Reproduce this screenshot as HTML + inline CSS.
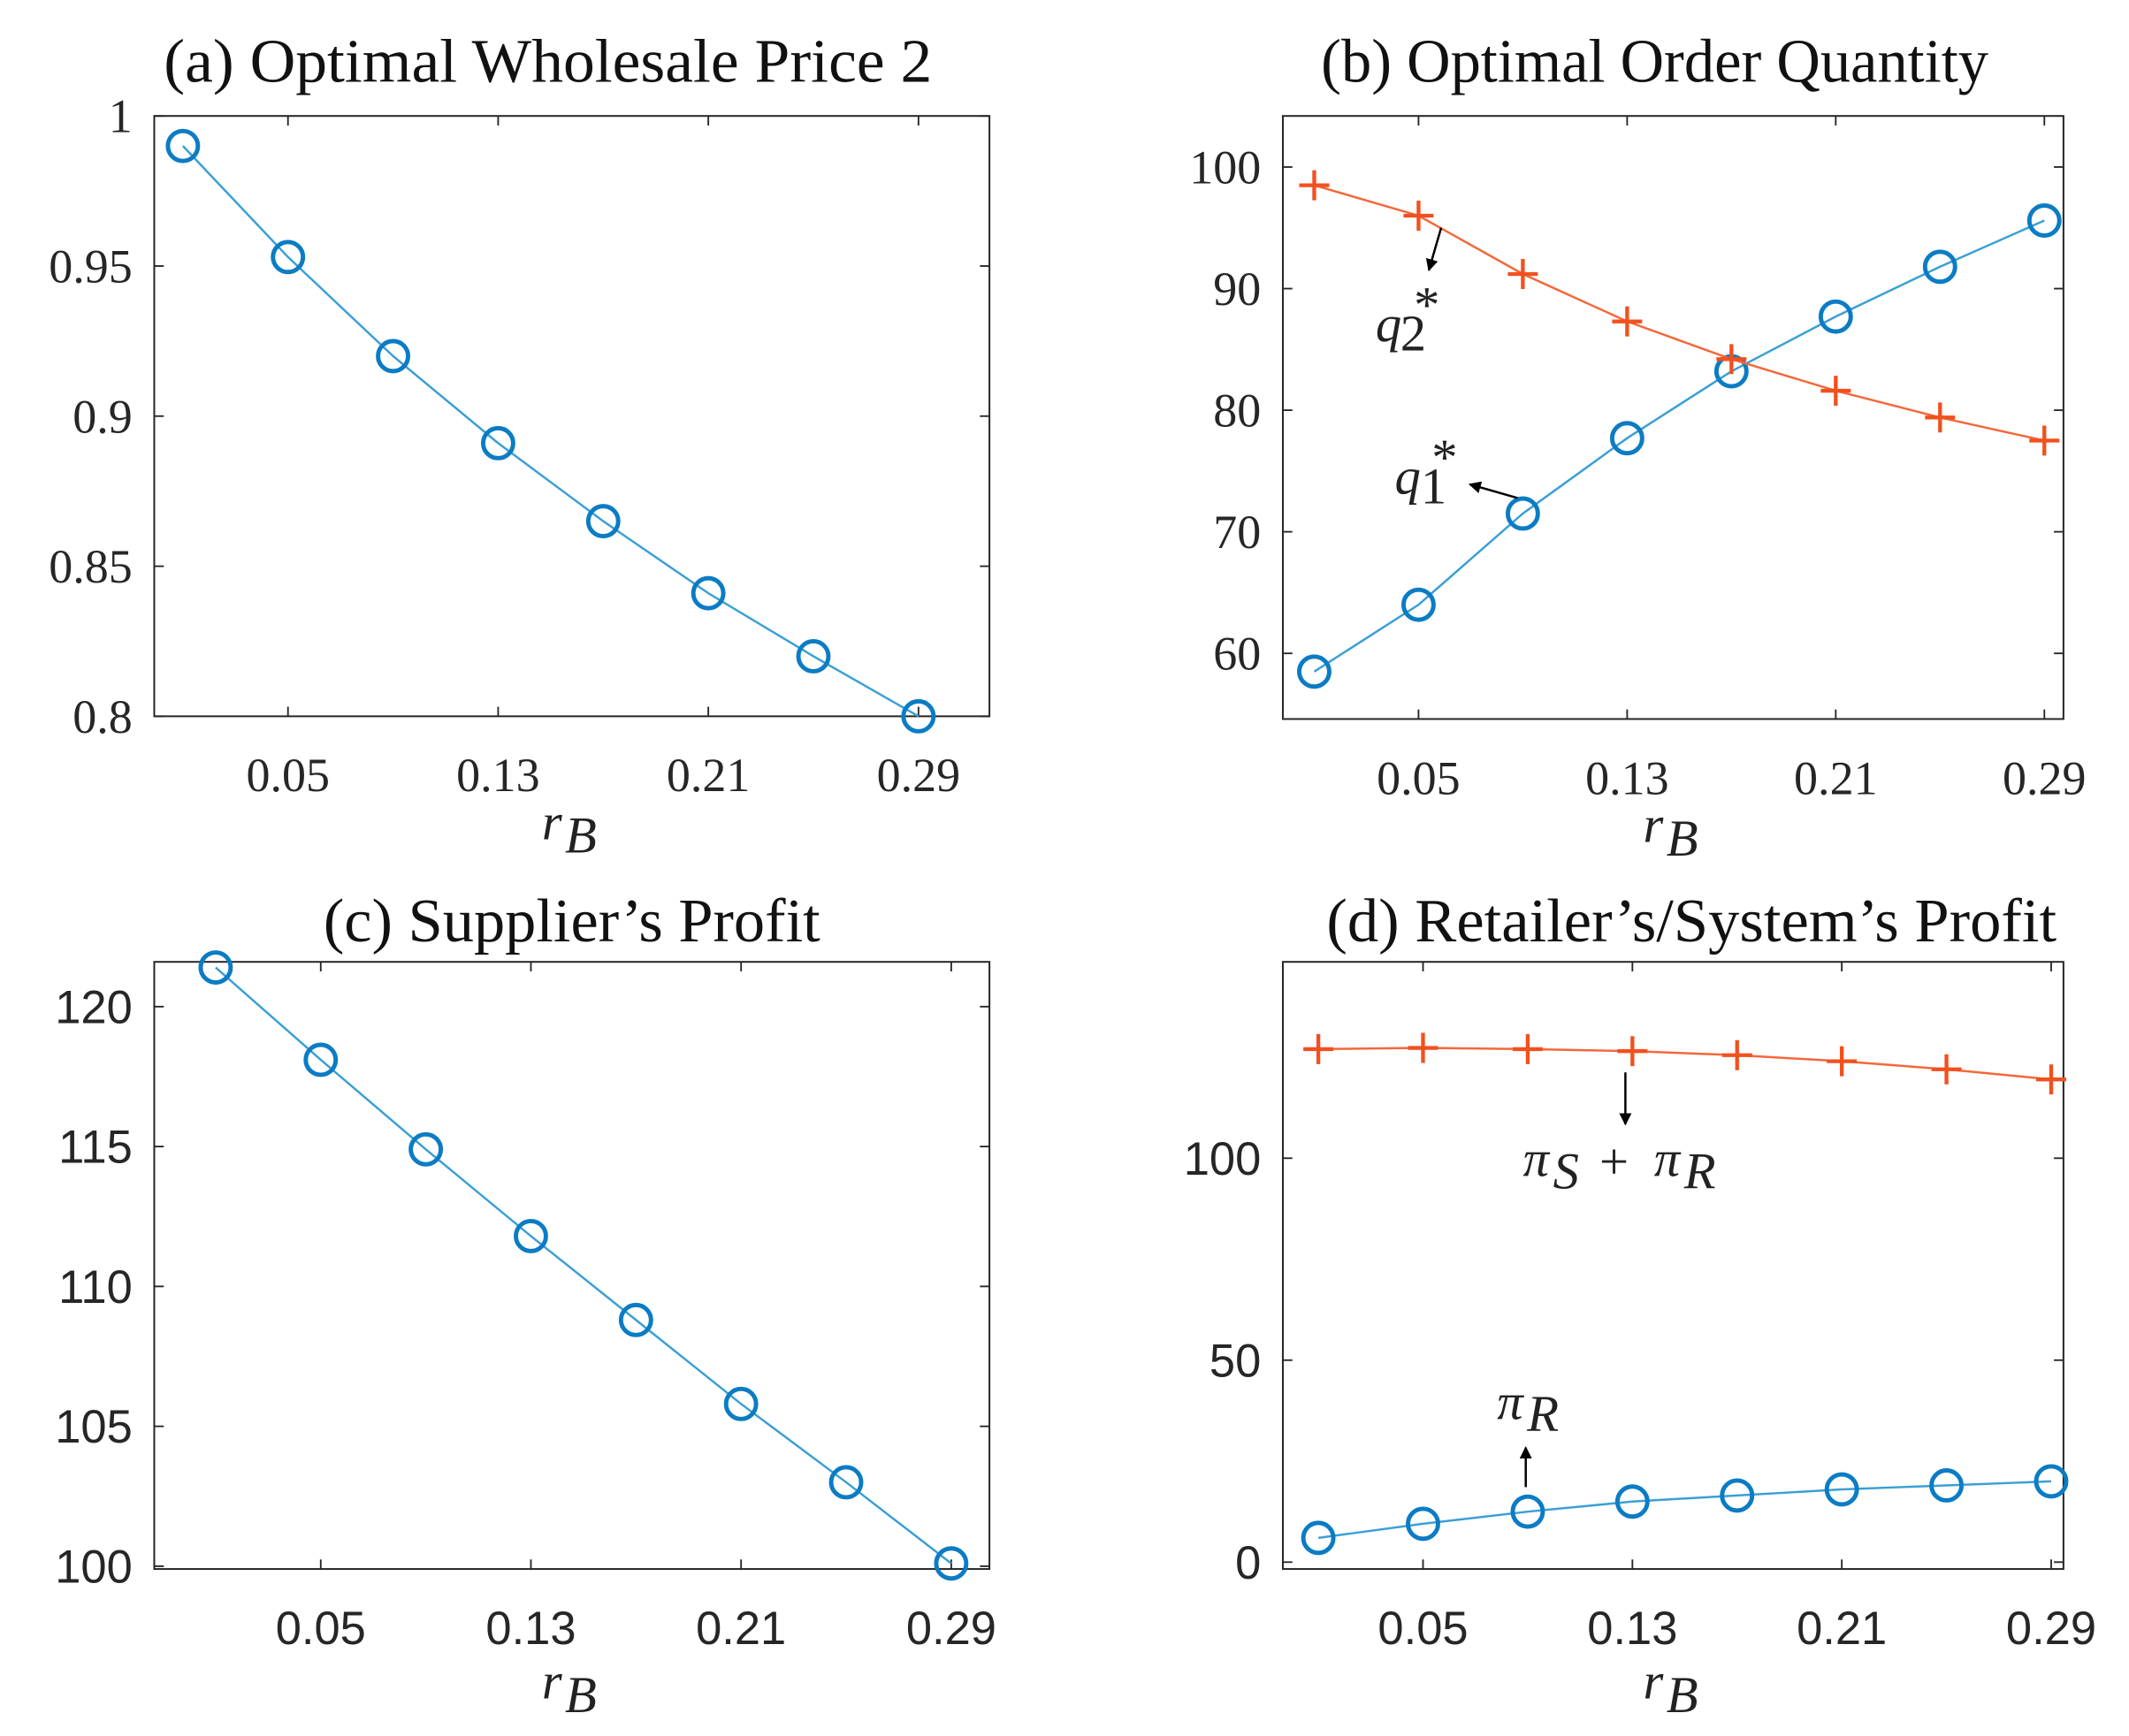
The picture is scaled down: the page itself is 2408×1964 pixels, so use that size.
<!DOCTYPE html>
<html><head><meta charset="utf-8"><style>
html,body{margin:0;padding:0;background:#fff;}
svg{display:block;}
.ttl{font-family:"Liberation Serif",serif;font-size:45px;fill:#111;}
.tks{font-family:"Liberation Serif",serif;font-size:35px;fill:#262626;}
.tkh{font-family:"Liberation Sans",sans-serif;font-size:34px;fill:#262626;}
.mth{font-family:"Liberation Serif",serif;font-style:italic;font-size:38px;fill:#222;}
.mthn{font-family:"Liberation Serif",serif;font-size:38px;fill:#222;}
</style></head><body>
<svg id="fig" width="2408" height="1964" viewBox="0 0 1560 1272.4" xmlns="http://www.w3.org/2000/svg">
<defs><marker id="ah" markerWidth="9" markerHeight="9" refX="8" refY="4.5" orient="auto" markerUnits="userSpaceOnUse" viewBox="0 0 9 9"><path d="M0,0 L9,4.5 L0,9 Z" fill="#000"/></marker></defs>
<g id="root"></g>
<g>
<line x1="1056" y1="167" x2="1047" y2="198" stroke="#000" stroke-width="1.6" marker-end="url(#ah)"/>
<text class="mth" x="1008" y="250">q</text><text class="mthn" x="1026" y="257" font-size="25">2</text><text class="mthn" x="1036" y="236" font-size="25">*</text>
</g>
<g>
<line x1="1112" y1="365" x2="1077" y2="355" stroke="#000" stroke-width="1.6" marker-end="url(#ah)"/>
<text class="mth" x="1022" y="362">q</text><text class="mthn" x="1041" y="369" font-size="25">1</text><text class="mthn" x="1049" y="348" font-size="25">*</text>
</g>
<g>
<line x1="1191" y1="786" x2="1191" y2="824" stroke="#000" stroke-width="1.6" marker-end="url(#ah)"/>
<text class="mth" x="1116" y="862">π</text><text class="mth" x="1138" y="871" font-size="26">S</text>
<text class="mthn" x="1172" y="864">+</text>
<text class="mth" x="1212" y="862">π</text><text class="mth" x="1234" y="871" font-size="26">R</text>
</g>
<g>
<line x1="1118" y1="1090" x2="1118" y2="1061" stroke="#000" stroke-width="1.6" marker-end="url(#ah)"/>
<text class="mth" x="1097" y="1040">π</text><text class="mth" x="1119" y="1049" font-size="26">R</text>
</g>
</svg>
<script>
const xCats = [0.01,0.05,0.09,0.13,0.17,0.21,0.25,0.29];
const xTickVals = [0.05,0.13,0.21,0.29];
const xTickLabels = ["0.05","0.13","0.21","0.29"];
const priceA = [0.99,0.953,0.92,0.891,0.865,0.841,0.82,0.80];
const yTicksA = [0.8,0.85,0.9,0.95,1];
const yLabelsA = ["0.8","0.85","0.9","0.95","1"];
const q1B = [58.5,64,71.5,77.7,83.2,87.7,91.8,95.6];
const q2B = [98.5,96,91.2,87.3,84.2,81.6,79.4,77.5];
const yTicksB = [60,70,80,90,100];
const yLabelsB = ["60","70","80","90","100"];
const supplierC = [121.4,118.1,114.9,111.8,108.8,105.8,103.0,100.1];
const yTicksC = [100,105,110,115,120];
const yLabelsC = ["100","105","110","115","120"];
const retailerD = [6,9.5,12.5,15,16.5,18,19,20];
const systemD = [127,127.3,127,126.5,125.5,124,122,119.5];
const yTicksD = [0,50,100];
const yLabelsD = ["0","50","100"];

const NS="http://www.w3.org/2000/svg";
const root=document.getElementById('root');
function mk(tag,attrs,parent){const e=document.createElementNS(NS,tag);for(const k in attrs)e.setAttribute(k,attrs[k]);(parent||root).appendChild(e);return e;}

function panel(o){
  const g=mk('g',{});
  
  
  const sx=v=>o.x0+(v-o.xmin)/(o.xmax-o.xmin)*(o.x1-o.x0);
  const sy=v=>o.y1-(v-o.ymin)/(o.ymax-o.ymin)*(o.y1-o.y0);
  const t=mk('text',{x:o.tx,y:o.ty,class:'ttl',textLength:o.tw,lengthAdjust:'spacingAndGlyphs'},g);
  t.textContent=o.title;
  
  
  const box=mk('rect',{x:o.x0,y:o.y0,width:o.x1-o.x0,height:o.y1-o.y0,fill:'none',stroke:'#262626','stroke-width':1.3},g);
  
  
  const tc=o.sans?'tkh':'tks';
  xTickVals.forEach((v,i)=>{
    const x=sx(v);
    mk('line',{x1:x,y1:o.y1,x2:x,y2:o.y1-7,stroke:'#262626','stroke-width':1.2},g);
    mk('line',{x1:x,y1:o.y0,x2:x,y2:o.y0+7,stroke:'#262626','stroke-width':1.2},g);
    const tl=mk('text',{x:x,y:o.y1+55,'text-anchor':'middle',class:tc},g);
    tl.textContent=xTickLabels[i];
    
    
  });
  o.yt.forEach((v,i)=>{
    const y=sy(v);
    mk('line',{x1:o.x0,y1:y,x2:o.x0+7,y2:y,stroke:'#262626','stroke-width':1.2},g);
    mk('line',{x1:o.x1,y1:y,x2:o.x1-7,y2:y,stroke:'#262626','stroke-width':1.2},g);
    const tl=mk('text',{x:o.x0-16,y:y+12,'text-anchor':'end',class:tc},g);
    tl.textContent=o.yl[i];
    
    
  });
  const xl=mk('text',{x:o.rx,y:o.y1+o.rdy,class:'mth'},g);
  xl.textContent='r';
  
  
  const xs=mk('text',{x:o.rx+17,y:o.y1+o.rdy+10,class:'mth','font-size':27},g);
  xs.textContent='B';
  o.series.forEach(s=>{
    const pts=s.vals.map((v,i)=>sx(xCats[i])+','+sy(v)).join(' ');
    const pl=mk('polyline',{points:pts,fill:'none',stroke:s.line,'stroke-width':1.6},g);
    
    
    s.vals.forEach((v,i)=>{
      const cx=sx(xCats[i]),cy=sy(v);
      if(s.kind==='o'){
        const c=mk('circle',{cx:cx,cy:cy,r:11,fill:'none',stroke:s.mark,'stroke-width':3.2},g);
        
        
      } else {
        const p=mk('path',{d:`M${cx-11},${cy}H${cx+11}M${cx},${cy-11}V${cy+11}`,stroke:s.mark,'stroke-width':2.8,fill:'none'},g);
        
        
      }
    });
  });
}
const BL='#3a9fd6',BM='#0b7cc4',RL='#f4673a',RM='#f2501e';
panel({name:'panel-a-wholesale-price',title:'(a) Optimal Wholesale Price 2',tx:120,ty:60,tw:563,rx:397,rdy:90,x0:113,x1:725,y0:85,y1:525,xmin:0.01-21/1925,xmax:0.29+52/1925,ymin:0.8,ymax:1,yt:yTicksA,yl:yLabelsA,sans:false,
  series:[{name:'wholesale-price',vals:priceA,kind:'o',line:BL,mark:BM}]});
panel({name:'panel-b-order-quantity',title:'(b) Optimal Order Quantity',tx:968,ty:60,tw:489,rx:1204,rdy:90,x0:940,x1:1512,y0:85,y1:527,xmin:0.01-23/1911,xmax:0.29+14/1911,ymin:54.6,ymax:104.2,yt:yTicksB,yl:yLabelsB,sans:false,
  series:[{name:'q1',vals:q1B,kind:'o',line:BL,mark:BM},{name:'q2',vals:q2B,kind:'+',line:RL,mark:RM}]});
panel({name:'panel-c-supplier-profit',title:'(c) Supplier\u2019s Profit',tx:237,ty:690,tw:364,rx:397,rdy:95,x0:113,x1:725,y0:705,y1:1150,xmin:0.01-45/1925,xmax:0.29+28/1925,ymin:99.9,ymax:121.6,yt:yTicksC,yl:yLabelsC,sans:true,
  series:[{name:'supplier-profit',vals:supplierC,kind:'o',line:BL,mark:BM}]});
panel({name:'panel-d-retailer-system-profit',title:'(d) Retailer\u2019s/System\u2019s Profit',tx:972,ty:690,tw:535,rx:1204,rdy:95,x0:940,x1:1512,y0:705,y1:1150,xmin:0.01-26/1918,xmax:0.29+9/1918,ymin:-1.7,ymax:148.6,yt:yTicksD,yl:yLabelsD,sans:true,
  series:[{name:'retailer-profit',vals:retailerD,kind:'o',line:BL,mark:BM},{name:'system-profit',vals:systemD,kind:'+',line:RL,mark:RM}]});
</script>
</body></html>
